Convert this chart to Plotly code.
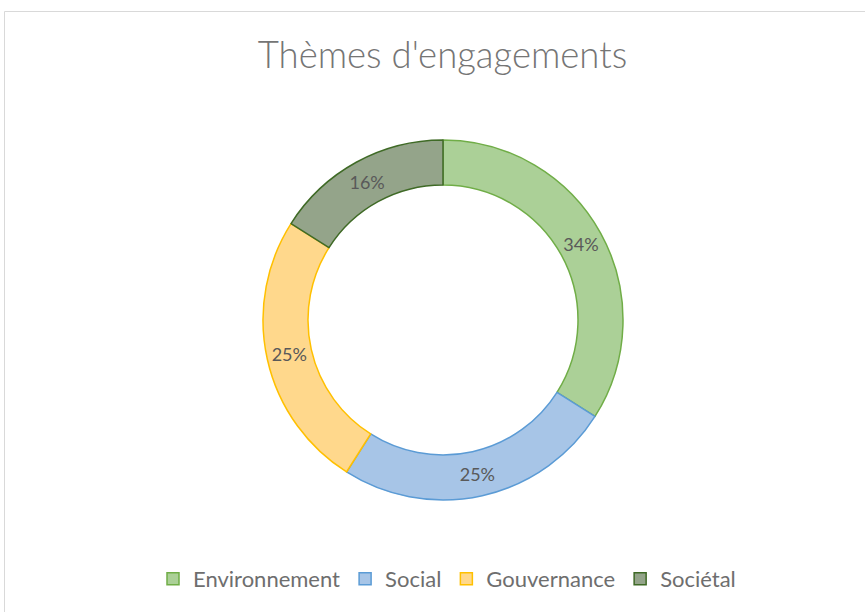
import plotly.graph_objects as go

categories = ["Environnement", "Social", "Gouvernance", "Sociétal"]
values = [34, 25, 25, 16]
fill_colors = ["#abd097", "#a7c5e7", "#ffd88c", "#94a48a"]
line_colors = ["#70ad47", "#5b9bd5", "#ffc000", "#3f6a26"]

W, H = 865, 612
cx, cy, R = 443, 320, 180

fig = go.Figure(go.Pie(
    labels=categories,
    values=values,
    hole=0.75,
    sort=False,
    direction="clockwise",
    rotation=0,
    marker=dict(colors=fill_colors, line=dict(color=line_colors, width=1.5)),
    textinfo="percent",
    texttemplate="%{percent:.0%}",
    textposition="inside",
    insidetextorientation="horizontal",
    textfont=dict(family="Lato, Open Sans, sans-serif", size=18, color="#595959"),
    domain=dict(x=[(cx - R) / W, (cx + R) / W], y=[1 - (cy + R) / H, 1 - (cy - R) / H]),
    hoverinfo="label+percent",
))

fig.update_layout(
    width=W, height=H,
    margin=dict(l=0, r=0, t=0, b=0),
    paper_bgcolor="white",
    title=dict(text="Thèmes d'engagements", x=442.5 / W, xanchor="center", y=1 - 55 / H, yanchor="middle",
               font=dict(family="Lato Light, Lato, Open Sans, sans-serif", size=36.5, color="#757575")),
    showlegend=True,
    legend=dict(orientation="h", x=447 / W, xanchor="center", y=1 - 579 / H, yanchor="middle",
                font=dict(family="Lato, Open Sans, sans-serif", size=22, color="#6e6e6e"),
                itemwidth=30, traceorder="normal"),
    shapes=[dict(type="rect", xref="paper", yref="paper", x0=4.5 / W, x1=1.2, y0=-0.2, y1=1 - 11.5 / H,
                 line=dict(color="#d9d9d9", width=1), fillcolor="rgba(0,0,0,0)", layer="below")],
)

fig.write_html("out.html")
